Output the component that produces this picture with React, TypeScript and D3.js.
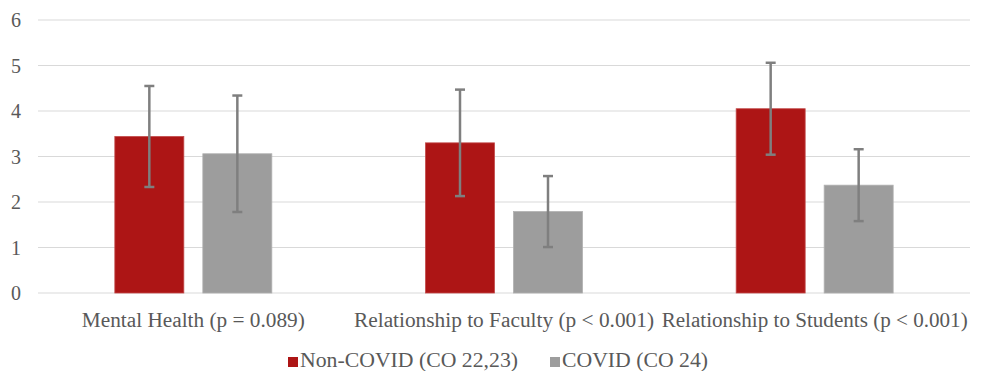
import React from 'react';
import * as d3 from 'd3';

const categories = [
  'Mental Health (p = 0.089)',
  'Relationship to Faculty (p < 0.001)',
  'Relationship to Students (p < 0.001)',
];
const seriesNames = ['Non-COVID (CO 22,23)', 'COVID (CO 24)'];
const nonCovidMean = [3.44, 3.3, 4.05];
const nonCovidSd = [1.11, 1.17, 1.01];
const covidMean = [3.06, 1.79, 2.37];
const covidSd = [1.28, 0.78, 0.79];
const yTicks = [0, 1, 2, 3, 4, 5, 6];

const colors = ['#ad1515', '#9d9d9d'];
const font = '"Liberation Serif", "Times New Roman", serif';
// widths the labels take in the reference
const labelWidths = [223, 300, 306];
const legendWidths = [218, 146];

function App() {
  const width = 985;
  const height = 371;
  const margin = { top: 20, right: 15, bottom: 78, left: 38 };

  const x = d3.scaleBand().domain(categories).range([margin.left, width - margin.right]);
  const y = d3.scaleLinear().domain([0, 6]).range([height - margin.bottom, margin.top]);

  const barW = 69;
  const gap = 19;

  const series = [
    { name: seriesNames[0], mean: nonCovidMean, sd: nonCovidSd, color: colors[0] },
    { name: seriesNames[1], mean: covidMean, sd: covidSd, color: colors[1] },
  ];

  return (
    <svg width={width} height={height} style={{ position: 'absolute', left: 0, top: 0 }}>
      <rect width={width} height={height} fill="#fff" />
      {yTicks.map((t) => (
        <g key={t}>
          <line x1={margin.left} x2={width - margin.right} y1={y(t)} y2={y(t)} stroke="#d9d9d9" strokeWidth={1.2} />
          <text x={21} y={y(t)} dy="0.35em" textAnchor="end" fontFamily={font} fontSize={20} fill="#595959">{t}</text>
        </g>
      ))}
      {categories.map((c, i) => {
        const cx = (x(c) as number) + x.bandwidth() / 2;
        return (
          <g key={c}>
            {series.map((s, j) => {
              const bx = j === 0 ? cx - gap / 2 - barW : cx + gap / 2;
              const ex = bx + barW / 2;
              return (
                <g key={s.name}>
                  <rect x={bx} y={y(s.mean[i])} width={barW} height={y(0) - y(s.mean[i])} fill={s.color} stroke={j === 0 ? '#c24a4a' : '#b0b0b0'} strokeWidth={0.8} />
                  <line x1={ex} x2={ex} y1={y(s.mean[i] + s.sd[i])} y2={y(s.mean[i] - s.sd[i])} stroke="#7f7f7f" strokeWidth={2.5} />
                  <line x1={ex - 5} x2={ex + 5} y1={y(s.mean[i] + s.sd[i])} y2={y(s.mean[i] + s.sd[i])} stroke="#7f7f7f" strokeWidth={2.5} />
                  <line x1={ex - 5} x2={ex + 5} y1={y(s.mean[i] - s.sd[i])} y2={y(s.mean[i] - s.sd[i])} stroke="#7f7f7f" strokeWidth={2.5} />
                </g>
              );
            })}
            <text x={cx} y={327} textAnchor="middle" fontFamily={font} fontSize={20} fill="#595959"
              textLength={labelWidths[i]} lengthAdjust="spacingAndGlyphs">{c}</text>
          </g>
        );
      })}
      <g>
        <rect x={288} y={357} width={10} height={10} fill={colors[0]} />
        <text x={300} y={367} fontFamily={font} fontSize={20} fill="#595959"
          textLength={legendWidths[0]} lengthAdjust="spacingAndGlyphs">{seriesNames[0]}</text>
        <rect x={550} y={357} width={10} height={10} fill={colors[1]} />
        <text x={562} y={367} fontFamily={font} fontSize={20} fill="#595959"
          textLength={legendWidths[1]} lengthAdjust="spacingAndGlyphs">{seriesNames[1]}</text>
      </g>
    </svg>
  );
}

export default App;
